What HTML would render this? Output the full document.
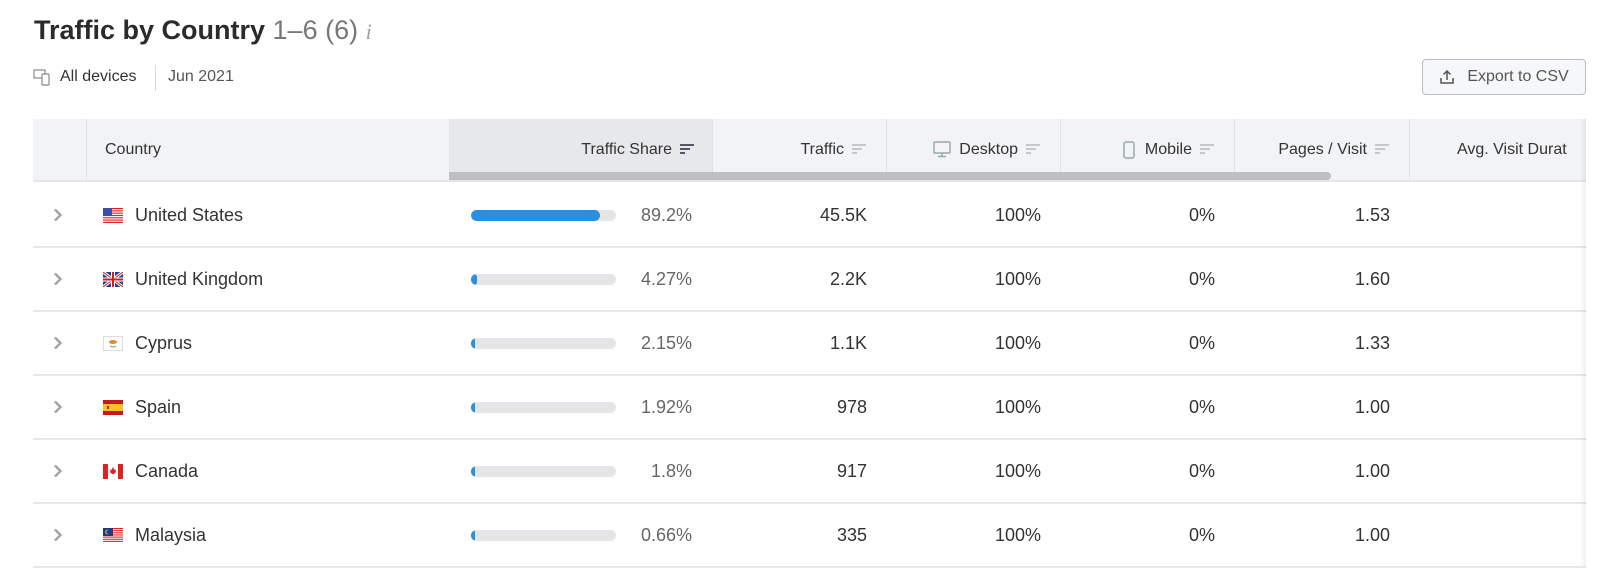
<!DOCTYPE html>
<html><head><meta charset="utf-8"><style>
*{box-sizing:border-box;margin:0;padding:0}
body{width:1600px;height:566px;overflow:hidden;background:#fff;font-family:"Liberation Sans",sans-serif;color:#333;position:relative}
.abs{position:absolute}
.hdr{position:absolute;top:119px;height:63px;background:#f2f3f5;border-bottom:2px solid #e4e6ea}
.hcell{position:absolute;top:0;height:61px;display:flex;align-items:center;font-size:16px;color:#333;border-left:1px solid #dfe1e5}
.sort{display:inline-block;width:14px;height:11px;margin-left:8px;position:relative}
.sort i{position:absolute;left:0;height:2px;background:#c4c7cc}
.row{position:absolute;left:33px;width:1553px;height:64px;border-bottom:2px solid #e6e8eb}
.cell{position:absolute;top:0;height:62px;display:flex;align-items:center;font-size:18px}
.num{justify-content:flex-end}
</style></head><body>
<div class="abs" style="left:34px;top:15px;font-size:27px;font-weight:bold;color:#2b2b2b">Traffic by Country <span style="font-weight:normal;color:#777">1–6 (6)</span> <span style="font-weight:normal;font-style:italic;color:#9aa4ad;font-size:22px;font-family:'Liberation Serif',serif">i</span></div>
<div class="abs" style="left:33px;top:68px;font-size:16px;display:flex;align-items:center">
<svg width="20" height="18" viewBox="0 0 20 18"><rect x="1" y="2" width="11" height="8" fill="none" stroke="#999" stroke-width="1.4"/><rect x="9" y="6" width="7" height="11" rx="1" fill="#fff" stroke="#999" stroke-width="1.4"/></svg>
<span style="margin-left:7px">All devices</span></div>
<div class="abs" style="left:155px;top:65px;width:1px;height:26px;background:#d5d8dc"></div>
<div class="abs" style="left:168px;top:68px;font-size:16px;color:#555">Jun 2021</div>
<div class="abs" style="left:1422px;top:59px;width:164px;height:36px;border:1px solid #b8c0c6;border-radius:4px;background:#f6f7f8;display:flex;align-items:center;justify-content:center;font-size:16px;color:#555">
<svg width="16" height="16" viewBox="0 0 16 16" style="margin-right:12px"><path d="M8 2v9M4.5 5.5L8 2l3.5 3.5M2 9v5h12V9" fill="none" stroke="#555" stroke-width="1.5"/></svg>Export to CSV</div>

<div class="hdr" style="left:33px;width:1553px">
<div class="hcell" style="left:53px;width:363px;padding-left:18px">Country</div>
<div class="hcell num" style="left:416px;width:263px;padding-right:18px;justify-content:flex-end;background:#e7e8ea">Traffic Share<span class="sort"><i style="top:0;width:14px;background:#556"></i><i style="top:4px;width:10px;background:#556"></i><i style="top:8px;width:5px;background:#556"></i></span></div>
<div class="hcell num" style="left:679px;width:174px;padding-right:20px;justify-content:flex-end">Traffic<span class="sort"><i style="top:0;width:14px"></i><i style="top:4px;width:10px"></i><i style="top:8px;width:5px"></i></span></div>
<div class="hcell num" style="left:853px;width:174px;padding-right:20px;justify-content:flex-end"><svg width="18" height="17" viewBox="0 0 18 17" style="margin-right:8px"><rect x="1" y="1" width="16" height="11" rx="1" fill="none" stroke="#9aa" stroke-width="1.5"/><path d="M9 12v3M5 15.5h8" stroke="#9aa" stroke-width="1.5"/></svg>Desktop<span class="sort"><i style="top:0;width:14px"></i><i style="top:4px;width:10px"></i><i style="top:8px;width:5px"></i></span></div>
<div class="hcell num" style="left:1027px;width:174px;padding-right:20px;justify-content:flex-end"><svg width="12" height="18" viewBox="0 0 12 18" style="margin-right:10px"><rect x="1" y="1" width="10" height="16" rx="2" fill="none" stroke="#9aa" stroke-width="1.5"/></svg>Mobile<span class="sort"><i style="top:0;width:14px"></i><i style="top:4px;width:10px"></i><i style="top:8px;width:5px"></i></span></div>
<div class="hcell num" style="left:1201px;width:175px;padding-right:20px;justify-content:flex-end">Pages / Visit<span class="sort"><i style="top:0;width:14px"></i><i style="top:4px;width:10px"></i><i style="top:8px;width:5px"></i></span></div>
<div class="hcell" style="left:1376px;width:177px;padding-left:47px;white-space:nowrap;overflow:hidden">Avg. Visit Durat</div>
<div class="abs" style="left:416px;top:53px;width:882px;height:8px;background:#bdbfc1;border-radius:0 4px 4px 0"></div>
</div>
<div id="rows"></div>
<div class="abs" style="left:1580px;top:119px;width:6px;height:447px;background:linear-gradient(to right,rgba(0,0,0,0),rgba(0,0,0,0.06))"></div>
<script>
const countries=["United States","United Kingdom","Cyprus","Spain","Canada","Malaysia"];
const shares=[89.2,4.27,2.15,1.92,1.8,0.66];
const shareLabels=["89.2%","4.27%","2.15%","1.92%","1.8%","0.66%"];
const traffic=["45.5K","2.2K","1.1K","978","917","335"];
const desktop=["100%","100%","100%","100%","100%","100%"];
const mobile=["0%","0%","0%","0%","0%","0%"];
const pages=["1.53","1.60","1.33","1.00","1.00","1.00"];
function flag(c){
 if(c==="United States")return '<svg width="20" height="15"><rect width="20" height="15" fill="#fff"/>'+[0,2,4,6,8,10,12].map(y=>'<rect y="'+(y*15/13)+'" width="20" height="1.15" fill="#d22"/>').join('')+'<rect width="9" height="8" fill="#3b4fa8"/></svg>';
 if(c==="United Kingdom")return '<svg width="20" height="15"><rect width="20" height="15" fill="#2b3f8f"/><path d="M0 0L20 15M20 0L0 15" stroke="#fff" stroke-width="3"/><path d="M0 0L20 15M20 0L0 15" stroke="#c22" stroke-width="1"/><path d="M10 0v15M0 7.5h20" stroke="#fff" stroke-width="4"/><path d="M10 0v15M0 7.5h20" stroke="#c22" stroke-width="2"/></svg>';
 if(c==="Cyprus")return '<svg width="20" height="15"><rect x=".5" y=".5" width="19" height="14" fill="#fff" stroke="#ddd"/><ellipse cx="10" cy="6" rx="4" ry="2" fill="#e08a2a"/><path d="M7 10q3 2 6 0" stroke="#6a6" fill="none"/></svg>';
 if(c==="Spain")return '<svg width="20" height="15"><rect width="20" height="15" fill="#c61a1a"/><rect y="4" width="20" height="7" fill="#f3c21b"/><rect x="4" y="6" width="2" height="3" fill="#a33"/></svg>';
 if(c==="Canada")return '<svg width="20" height="15"><rect width="20" height="15" fill="#fff"/><rect width="5" height="15" fill="#d22"/><rect x="15" width="5" height="15" fill="#d22"/><path d="M10 3l1.5 3 1.5-.5-.5 3 1-.5-3.5 2.5-3.5-2.5 1 .5-.5-3 1.5.5z" fill="#d22"/></svg>';
 return '<svg width="20" height="15"><rect width="20" height="15" fill="#fff"/>'+[0,2,4,6,8,10,12].map(y=>'<rect y="'+(y*15/14)+'" width="20" height="1.07" fill="#d22"/>').join('')+'<rect width="10" height="8" fill="#1a3a8a"/><circle cx="4.5" cy="4" r="2.3" fill="#f3c21b"/><circle cx="5.3" cy="4" r="1.9" fill="#1a3a8a"/></svg>';
}
const BAR_W=145;
function barX(v){return v/100*BAR_W;}
const host=document.getElementById('rows');
countries.forEach((c,i)=>{
 const r=document.createElement('div');
 r.className='row';r.style.top=(184+i*64)+'px';
 
 
 r.innerHTML=
 '<div class="cell" style="left:20px;width:20px;color:#9aa4ad;font-size:22px"><svg width="10" height="14" viewBox="0 0 10 14"><path d="M2 1.5l5.5 5.5L2 12.5" fill="none" stroke="#9aa4ad" stroke-width="2.4"/></svg></div>'+
 '<div class="cell" style="left:70px;width:30px">'+flag(c)+'</div>'+
 '<div class="cell" style="left:102px;width:300px">'+c+'</div>'+
 '<div class="cell" style="left:438px;width:'+BAR_W+'px"><div style="position:relative;width:'+BAR_W+'px;height:11px;border-radius:6px;background:#e4e5e7;overflow:hidden"><div style="position:absolute;left:0;top:0;height:11px;border-radius:6px;background:#2a8fe0;width:'+Math.max(4,barX(shares[i]))+'px"></div></div></div>'+
 '<div class="cell num" style="left:590px;width:69px;color:#666">'+shareLabels[i]+'</div>'+
 '<div class="cell num" style="left:679px;width:155px">'+traffic[i]+'</div>'+
 '<div class="cell num" style="left:853px;width:155px">'+desktop[i]+'</div>'+
 '<div class="cell num" style="left:1027px;width:155px">'+mobile[i]+'</div>'+
 '<div class="cell num" style="left:1201px;width:156px">'+pages[i]+'</div>';
 host.appendChild(r);
});
</script>
</body></html>
